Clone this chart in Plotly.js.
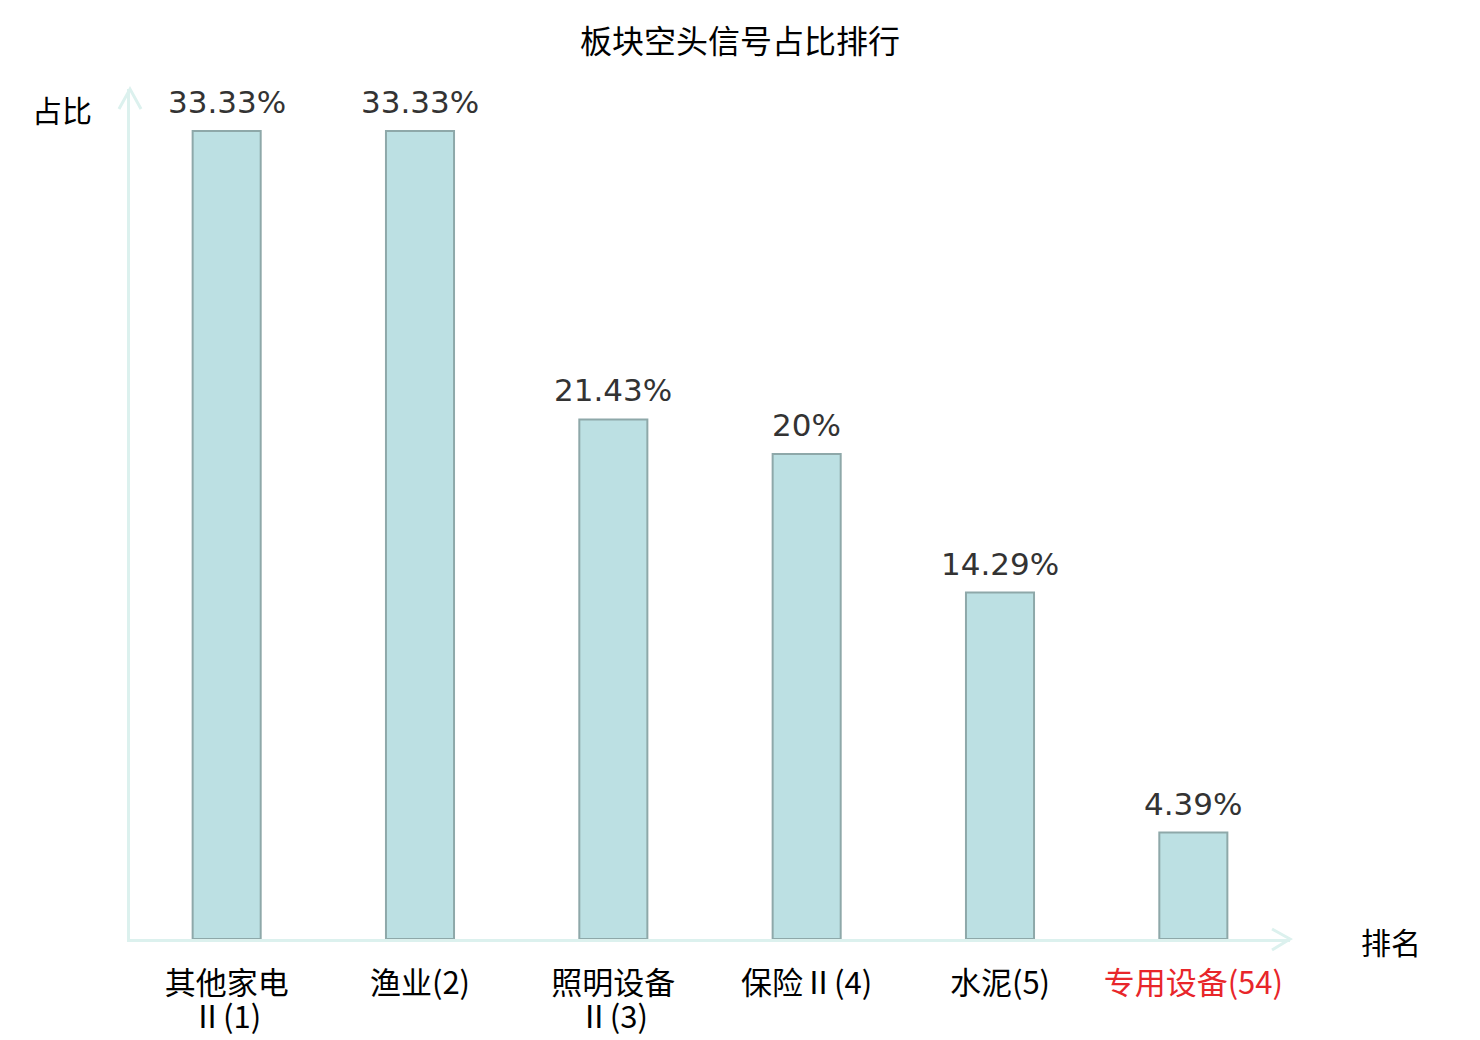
<!DOCTYPE html>
<html>
<head>
<meta charset="utf-8">
<script src="https://cdn.plot.ly/plotly-3.0.1.min.js"></script>
<style>
  html, body { margin: 0; padding: 0; background: #ffffff; }
  #chart { width: 1480px; height: 1040px; }
</style>
</head>
<body>
<div id="chart"></div>
<script>
// sector names with their rank, and share of bearish signals (%)
const categories = ['其他家电<br>Ⅱ(1)', '渔业(2)', '照明设备<br>Ⅱ(3)', '保险Ⅱ(4)', '水泥(5)', '专用设备(54)'];
const shares = [33.33, 33.33, 21.43, 20, 14.29, 4.39];
const shareLabels = ['33.33%', '33.33%', '21.43%', '20%', '14.29%', '4.39%'];
const highlightIndex = 5;

const CJK = "'Noto Sans CJK SC', 'Noto Sans', sans-serif";
const AXIS_COLOR = '#dcf1ee';
const TICK_SIZE = 31;

// tick labels are split so the wrapped second line can sit closer to the first
const colorize = (s, i) =>
    i === highlightIndex ? '<span style="color:#e8262a">' + s + '</span>' : s;
const firstLines = categories.map((c, i) => colorize(c.split('<br>')[0], i));
const secondLines = categories.map((c, i) => colorize(c.split('<br>')[1] || '', i));
const positions = categories.map((c, i) => i);

const bars = {
    type: 'bar',
    x: positions,
    y: shares,
    marker: {
        color: '#bce0e3',
        line: { color: '#8ea8a9', width: 2 }
    },
    hoverinfo: 'none'
};

// draws nothing, only makes the second tick-label row axis appear
const secondRowHelper = {
    type: 'scatter',
    mode: 'none',
    x: positions,
    y: shares,
    xaxis: 'x2',
    hoverinfo: 'none',
    showlegend: false
};

const valueNotes = shares.map((v, i) => ({
    x: positions[i], y: v, xref: 'x', yref: 'y',
    text: shareLabels[i], showarrow: false,
    xanchor: 'center', yanchor: 'middle', yshift: 29,
    font: { family: "'DejaVu Sans', sans-serif", size: 31, color: '#333333' }
}));

// small chevrons at the ends of the two axes
const arrowLine = { color: AXIS_COLOR, width: 3 };
const shapes = [
    { type: 'path', xref: 'paper', yref: 'paper',
      path: 'M -0.0095 0.9765 L 0 1 L 0.0095 0.9765', line: arrowLine },
    { type: 'path', xref: 'paper', yref: 'paper',
      path: 'M 0.9845 0.0118 L 1 0 L 0.9845 -0.0129', line: arrowLine }
];

const layout = {
    width: 1480,
    height: 1040,
    margin: { t: 89, r: 190, b: 101, l: 130 },
    paper_bgcolor: '#ffffff',
    plot_bgcolor: '#ffffff',
    showlegend: false,
    bargap: 0.648,
    font: { family: CJK, size: 30, color: '#000000' },
    title: {
        text: '板块空头信号占比排行',
        font: { family: CJK, size: 32, color: '#000000' },
        x: 0.5, xanchor: 'center',
        y: 1 - 42 / 1040, yanchor: 'middle'
    },
    xaxis: {
        range: [-0.5, 5.5],
        tickvals: positions,
        ticktext: firstLines,
        tickfont: { family: CJK, size: TICK_SIZE, color: '#000000' },
        ticks: '',
        ticklabelstandoff: 15,
        showline: true,
        linecolor: AXIS_COLOR,
        linewidth: 3,
        showgrid: false,
        zeroline: false,
        fixedrange: true
    },
    xaxis2: {
        overlaying: 'x',
        anchor: 'y',
        side: 'bottom',
        range: [-0.5, 5.5],
        tickvals: positions,
        ticktext: secondLines,
        tickfont: { family: CJK, size: TICK_SIZE, color: '#000000' },
        ticks: '',
        ticklabelstandoff: 57,
        showline: false,
        showgrid: false,
        zeroline: false,
        fixedrange: true
    },
    yaxis: {
        range: [0, 35.06],
        showline: true,
        linecolor: AXIS_COLOR,
        linewidth: 3,
        showgrid: false,
        zeroline: false,
        showticklabels: false,
        ticks: '',
        fixedrange: true
    },
    shapes: shapes,
    annotations: valueNotes.concat([
        { text: '占比', xref: 'paper', yref: 'paper', x: -0.0586, y: 0.977,
          xanchor: 'center', yanchor: 'middle', showarrow: false,
          font: { family: CJK, size: 30, color: '#000000' } },
        { text: '排名', xref: 'paper', yref: 'paper', x: 1.087, y: -0.0024,
          xanchor: 'center', yanchor: 'middle', showarrow: false,
          font: { family: CJK, size: 30, color: '#000000' } }
    ])
};

Plotly.newPlot('chart', [bars, secondRowHelper], layout, { displayModeBar: false, staticPlot: true });
</script>
</body>
</html>
